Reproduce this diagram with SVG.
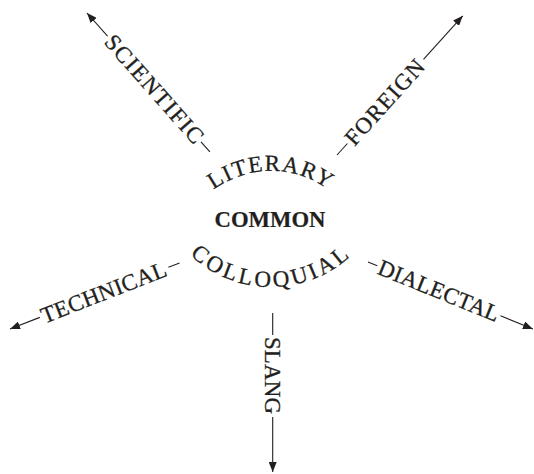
<svg xmlns="http://www.w3.org/2000/svg" width="534" height="474" viewBox="0 0 534 474">
<style>
text{font-family:"Liberation Serif","Times New Roman",serif;fill:#231f20;font-size:23px;stroke:#231f20;stroke-width:0.3}
.b{font-weight:bold;font-size:22.7px;stroke-width:0.2}
line{stroke:#231f20;stroke-width:1.1}
</style>
<defs>
<marker id="arr" viewBox="0 0 10 8" refX="10" refY="4" markerWidth="10" markerHeight="8" markerUnits="userSpaceOnUse" orient="auto"><path d="M0,0 L10,4 L0,8 z" fill="#231f20"/></marker>
<path id="arcTop" d="M175.47,251.16 A97,97 0 0,1 366.53,251.16"/>
<path id="arcBot" d="M160.12,209.36 A118,118 0 0,0 381.88,209.36"/>
</defs>
<rect width="534" height="474" fill="#fff"/>
<g id="connectors">
<g transform="translate(87,13) rotate(48.5)">
<line x1="31" y1="0" x2="0" y2="0" marker-end="url(#arr)"/>
<line x1="172" y1="0" x2="185.5" y2="0"/>
</g>
<g transform="translate(337,155) rotate(-47.9)">
<line x1="0" y1="0" x2="15.5" y2="0"/>
<line x1="129" y1="0" x2="187.6" y2="0" marker-end="url(#arr)"/>
</g>
<g transform="translate(10,329) rotate(-21.3)">
<line x1="32" y1="0" x2="0" y2="0" marker-end="url(#arr)"/>
<line x1="170" y1="0" x2="182" y2="0"/>
</g>
<g transform="translate(368,262) rotate(22.1)">
<line x1="0" y1="0" x2="10" y2="0"/>
<line x1="143" y1="0" x2="178" y2="0" marker-end="url(#arr)"/>
</g>
<g transform="translate(272.7,313) rotate(90)">
<line x1="0" y1="0" x2="22" y2="0"/>
<line x1="104" y1="0" x2="159" y2="0" marker-end="url(#arr)"/>
</g>
</g>
<g id="common"><text class="b" x="270" y="227" text-anchor="middle">COMMON</text></g>
<g id="literary"><text letter-spacing="1.3"><textPath href="#arcTop" startOffset="50%" text-anchor="middle">LITERARY</textPath></text></g>
<g id="colloquial"><text letter-spacing="3"><textPath href="#arcBot" startOffset="50%" text-anchor="middle">COLLOQUIAL</textPath></text></g>
<g id="scientific"><text transform="translate(87,13) rotate(48.5)" x="33" y="7.6" textLength="137" lengthAdjust="spacing">SCIENTIFIC</text></g>
<g id="foreign"><text transform="translate(337,155) rotate(-47.9)" x="17.5" y="7.6" textLength="107" lengthAdjust="spacing">FOREIGN</text></g>
<g id="technical"><text transform="translate(10,329) rotate(-21.3)" x="34" y="7.6" textLength="133" lengthAdjust="spacing">TECHNICAL</text></g>
<g id="dialectal"><text transform="translate(368,262) rotate(22.1)" x="12" y="7.6" textLength="129" lengthAdjust="spacing">DIALECTAL</text></g>
<g id="slang"><text transform="translate(272.7,313) rotate(90)" x="24" y="7.6" textLength="77" lengthAdjust="spacing">SLANG</text></g>
</svg>
